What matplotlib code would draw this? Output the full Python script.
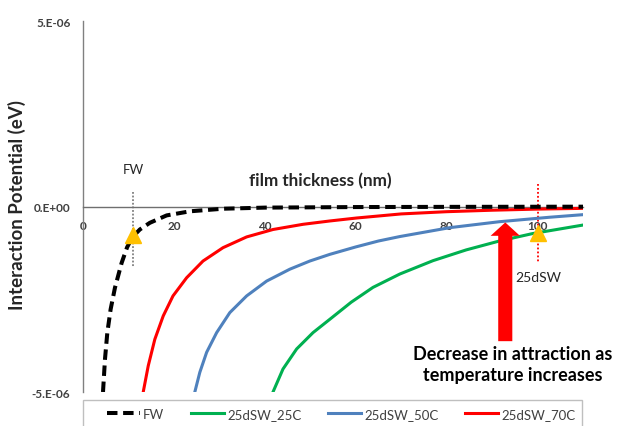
import matplotlib
matplotlib.use('Agg')
import matplotlib.pyplot as plt
from matplotlib.patches import FancyArrow, Rectangle
from matplotlib.lines import Line2D

plt.rcParams['font.family'] = ['Lato', 'DejaVu Sans']

# film thickness (nm) and interaction potential (units of 1e-6 eV)
fw_x = [4.4, 4.84, 5.35, 6.08, 7.03, 8.5, 9.7, 10.9, 12.5, 14.7, 18.4, 23.5, 30.8, 40.0, 60.0, 80.0, 110.0]
fw_y = [-5.0, -4.11, -3.40, -2.77, -2.19, -1.52, -1.10, -0.82, -0.62, -0.44, -0.24, -0.13, -0.06,
        -0.03, -0.015, -0.01, -0.005]

red_x = [13.25, 14.36, 15.8, 17.65, 19.8, 22.8, 26.4, 30.8, 36.0, 41.8, 48.4, 54.3, 60.2, 70.0,
         80.0, 90.0, 100.0, 110.0]
red_y = [-5.0, -4.29, -3.58, -2.95, -2.41, -1.92, -1.47, -1.11, -0.82, -0.62, -0.48, -0.39, -0.31,
         -0.20, -0.14, -0.10, -0.07, -0.05]

blue_x = [24.6, 25.7, 27.2, 29.4, 32.3, 36.0, 40.4, 45.5, 49.9, 54.3, 60.0, 65.0, 69.7, 80.7,
          91.6, 102.6, 110.0]
blue_y = [-5.0, -4.47, -3.93, -3.40, -2.86, -2.41, -2.01, -1.69, -1.47, -1.29, -1.09, -0.93, -0.81,
          -0.57, -0.41, -0.29, -0.22]

green_x = [41.8, 44.0, 47.0, 50.6, 54.3, 59.0, 63.8, 69.7, 77.0, 84.3, 91.6, 98.9, 110.0]
green_y = [-5.0, -4.38, -3.84, -3.40, -3.04, -2.58, -2.18, -1.82, -1.46, -1.17, -0.93, -0.73, -0.50]

series_labels = ['FW', '25dSW_25C', '25dSW_50C', '25dSW_70C']
x_ticks = [0, 20, 40, 60, 80, 100]
y_ticks = [-5e-6, 0.0, 5e-6]
y_tick_labels = ['-5.E-06', '0.E+00', '5.E-06']

marker_x = [10.9, 100.0]
marker_y = [-0.76, -0.72]

SCALE = 1e-6
GREEN = '#00B050'
BLUE = '#4F81BD'
RED = '#FF0000'
GRAY = '#808080'
TXT = '#404040'

W, H = 618, 427
fig = plt.figure(figsize=(W / 100, H / 100), dpi=100)
ax = fig.add_axes([83 / W, 1 - 393 / H, 500 / W, 371 / H])
ax.set_xlim(0, 110)
ax.set_ylim(-5e-6, 5e-6)

for s in ['top', 'right']:
    ax.spines[s].set_visible(False)
ax.spines['bottom'].set_position(('data', 0))
ax.spines['bottom'].set_color('#6f6f6f')
ax.spines['left'].set_color(GRAY)
ax.spines['left'].set_linewidth(1.0)
ax.spines['bottom'].set_linewidth(1.0)

ax.set_xticks(x_ticks)
ax.set_xticklabels([str(t) for t in x_ticks], fontsize=8.5, fontweight='bold', color=TXT)
ax.set_yticks(y_ticks)
ax.set_yticklabels(y_tick_labels, fontsize=8.5, fontweight='bold', color=TXT)
ax.tick_params(axis='x', length=0, pad=10)
ax.tick_params(axis='y', length=0, pad=9)

ax.plot(green_x, [v * SCALE for v in green_y], color=GREEN, lw=2.2, zorder=3)
ax.plot(blue_x, [v * SCALE for v in blue_y], color=BLUE, lw=2.2, zorder=3)
ax.plot(red_x, [v * SCALE for v in red_y], color=RED, lw=2.2, zorder=3)
ax.plot(fw_x, [v * SCALE for v in fw_y], color='black', lw=2.9,
        linestyle=(0, (2.6, 1.4)), dash_capstyle='butt', zorder=4)

# guide lines
ax.plot([11.0, 11.0], [0.4e-6, -1.63e-6], color=GRAY, lw=1.3, linestyle=(0, (1, 1)), zorder=2)
ax.plot([100.0, 100.0], [0.6e-6, -1.5e-6], color=RED, lw=1.3, linestyle=(0, (1, 1.2)), zorder=2)

ax.plot(marker_x, [v * SCALE for v in marker_y], linestyle='none', marker='^',
        markersize=11, color='#FFC000', zorder=5)

arrow = FancyArrow(92.9, -3.63e-6, 0, 3.2e-6, width=3.1, head_width=6.45,
                   head_length=0.36e-6, length_includes_head=True,
                   color=RED, lw=0, zorder=6)
ax.add_patch(arrow)

ax.text(11.0, 1.0e-6, 'FW', ha='center', va='center', fontsize=9.5, color='#262626')
ax.text(52.3, 0.72e-6, 'film thickness (nm)', ha='center', va='center', fontsize=12.3,
        fontweight='bold', color='#262626')
ax.text(95.0, -1.9e-6, '25dSW', ha='left', va='center', fontsize=10, color='#262626')
ax.text(94.5, -4.25e-6, 'Decrease in attraction as\ntemperature increases', ha='center',
        va='center', fontsize=13, fontweight='bold', color='black', linespacing=1.32,
        clip_on=False)

fig.text(17 / W, 1 - 205 / H, 'Interaction Potential (eV)', rotation=90, ha='center',
         va='center', fontsize=13.5, fontweight='bold', color='#262626')

# legend
fig.patches.append(Rectangle((83 / W, -0.05), 499 / W, 0.05 + 1 - 401 / H,
                             transform=fig.transFigure, fill=False,
                             edgecolor='#bfbfbf', lw=1.0))
handles = [
    Line2D([], [], color='black', lw=2.9, linestyle=(0, (2.6, 1.4)), dash_capstyle='butt'),
    Line2D([], [], color=GREEN, lw=2.2),
    Line2D([], [], color=BLUE, lw=2.2),
    Line2D([], [], color=RED, lw=2.2),
]
fig.legend(handles, series_labels, loc='center', bbox_to_anchor=(341 / W, 1 - 415 / H),
           ncol=4, frameon=False, fontsize=9.5, handlelength=2.5, handletextpad=0.25,
           columnspacing=2.0, labelcolor='#404040')

fig.savefig('out.png', dpi=100)
